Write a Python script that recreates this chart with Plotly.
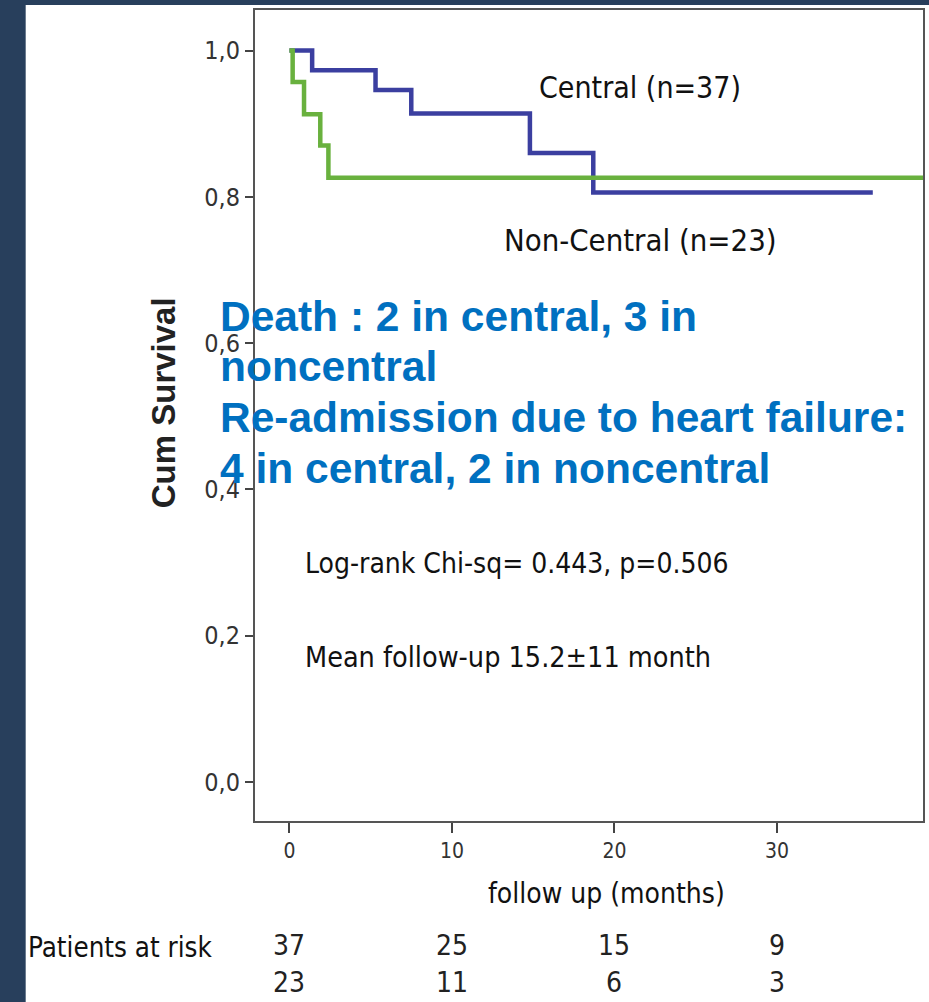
import plotly.graph_objects as go

# ---- data ----
central_t = [0, 1.4, 5.3, 7.5, 14.8, 18.7, 35.9]
central_s = [1.0, 0.973, 0.946, 0.914, 0.860, 0.806, 0.806]
noncentral_t = [0, 0.2, 0.9, 1.9, 2.4, 40.0]
noncentral_s = [1.0, 0.957, 0.913, 0.870, 0.826, 0.826]

y_tickvals = [0.0, 0.2, 0.4, 0.6, 0.8, 1.0]
y_ticktext = ["0,0", "0,2", "0,4", "0,6", "0,8", "1,0"]
x_tickvals = [0, 10, 20, 30]
risk_times = [0, 10, 20, 30]
risk_central = [37, 25, 15, 9]
risk_noncentral = [23, 11, 6, 3]

NAVY = "#283f5c"
BLUE = "#3b3fa0"
GREEN = "#69b13e"
TXTBLUE = "#0070c0"
NARROW = "Liberation Sans Narrow, DejaVu Sans Condensed, sans-serif"
ARIAL = "Liberation Sans, Arial, sans-serif"

W, H = 929, 1002
L, R, T, B = 255, 4, 10, 181
PW, PH = W - L - R, H - T - B


def px(x):
    return (x - L) / PW


def py(y):
    return (H - B - y) / PH


fig = go.Figure()
fig.add_trace(go.Scatter(x=central_t, y=central_s, mode="lines", line_shape="hv",
                         line=dict(color=BLUE, width=4.5), name="Central", showlegend=False))
fig.add_trace(go.Scatter(x=noncentral_t, y=noncentral_s, mode="lines", line_shape="hv",
                         line=dict(color=GREEN, width=4.5), name="Non-Central", showlegend=False))

ann = []


def txt(text, x, y, size, family, color="#111", xanchor="left", bold=False, angle=0, xref="paper"):
    if bold:
        text = "<b>" + text + "</b>"
    ann.append(dict(text=text, x=x, y=y, xref=xref, yref="paper", xanchor=xanchor, yanchor="middle",
                    showarrow=False, textangle=angle, font=dict(size=size, family=family, color=color)))


txt("Central (n=37)", px(538), py(88), 30, NARROW)
txt("Non-Central (n=23)", px(503), py(240), 30.8, NARROW)
txt("Death : 2 in central, 3 in", px(218), py(316), 42.5, ARIAL, TXTBLUE, bold=True)
txt("noncentral", px(218), py(366), 42.5, ARIAL, TXTBLUE, bold=True)
txt("Re-admission due to heart failure:", px(218), py(417), 42.5, ARIAL, TXTBLUE, bold=True)
txt("4 in central, 2 in noncentral", px(218), py(468), 42.5, ARIAL, TXTBLUE, bold=True)
txt("Log-rank Chi-sq= 0.443, p=0.506", px(303), py(563), 28, NARROW)
txt("Mean follow-up 15.2±11 month", px(303), py(657), 28.5, NARROW)
txt("Cum Survival", px(163), py(403), 33, ARIAL, "#222", xanchor="center", bold=True, angle=-90)
txt("follow up (months)", px(608), py(893), 28, NARROW, xanchor="center")
txt("Patients at risk", px(25), py(947), 27.5, NARROW)
for t, a, b in zip(risk_times, risk_central, risk_noncentral):
    txt(str(a), t, py(945), 28, NARROW, "#222", xanchor="center", xref="x")
    txt(str(b), t, py(982), 28, NARROW, "#222", xanchor="center", xref="x")

shapes = [
    dict(type="rect", xref="paper", yref="paper", x0=px(25), x1=px(W + 5), y0=py(H + 5), y1=py(5),
         fillcolor="white", line=dict(width=0), layer="below"),
]

fig.update_layout(
    width=W, height=H,
    margin=dict(l=L, r=R, t=T, b=B, pad=0),
    paper_bgcolor=NAVY, plot_bgcolor="white",
    annotations=ann, shapes=shapes,
    xaxis=dict(range=[-2.117, 38.99], tickvals=x_tickvals, ticks="outside", ticklen=10, tickwidth=1.5,
               tickcolor="#444", showline=True, linecolor="#555", linewidth=2, mirror=True,
               showgrid=False, zeroline=False,
               tickfont=dict(size=21, family=NARROW, color="#333")),
    yaxis=dict(range=[-0.05332, 1.05537], tickvals=y_tickvals, ticktext=y_ticktext, ticks="outside",
               ticklen=8, tickwidth=1.5, tickcolor="#444", showline=True, linecolor="#555", linewidth=2,
               mirror=True, showgrid=False, zeroline=False,
               tickfont=dict(size=25, family=NARROW, color="#333")),
)

fig.write_html("out.html", config={"displayModeBar": False},
               post_script="document.body.style.margin='0';document.body.style.padding='0';")
